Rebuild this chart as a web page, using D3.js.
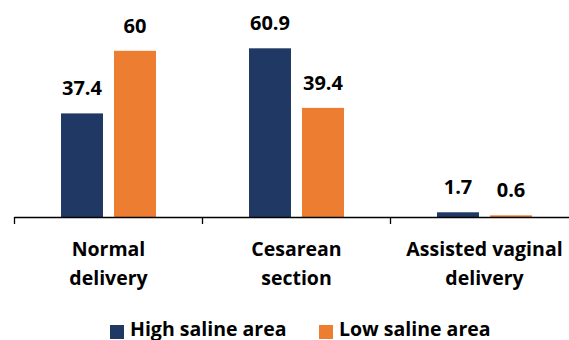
<!DOCTYPE html>
<html>
<head>
<meta charset="utf-8">
<script src="https://cdn.jsdelivr.net/npm/d3@7"></script>
<style>
  html, body { margin: 0; padding: 0; background: #fff; }
  svg { display: block; font-family: "Open Sans", Lato, sans-serif; font-weight: bold; }
</style>
</head>
<body>
<svg id="chart" width="569" height="340"></svg>
<script>
// Mode of delivery by area (%)
const categories = [["Normal", "delivery"], ["Cesarean", "section"], ["Assisted vaginal", "delivery"]];
const seriesNames = ["High saline area", "Low saline area"];
const highSaline = [37.4, 60.9, 1.7];
const lowSaline = [60, 39.4, 0.6];
const colors = ["#203864", "#ED7D31"];

const svg = d3.select("#chart");
const baseY = 217;

const x0 = d3.scaleBand()
  .domain(d3.range(categories.length))
  .range([14.5, 578.5])
  .paddingInner(0).paddingOuter(0);

// two bars per group, 42px wide with an 11px gap, centred in the group
const x1 = d3.scaleBand()
  .domain(d3.range(seriesNames.length))
  .range([46.5, 141.5])
  .paddingInner(11 / 53)
  .paddingOuter(0);

const y = d3.scaleLinear().domain([0, 70]).range([baseY, baseY - 70 * 2.77]);

const rows = categories.map((c, i) => ({ i, values: [highSaline[i], lowSaline[i]] }));

const groups = svg.selectAll("g.cat").data(rows).join("g")
  .attr("class", "cat")
  .attr("transform", d => `translate(${x0(d.i)},0)`);

groups.selectAll("rect").data(d => d.values.map((v, s) => ({ v, s }))).join("rect")
  .attr("x", d => x1(d.s))
  .attr("width", x1.bandwidth())
  .attr("y", d => y(d.v))
  .attr("height", d => y(0) - y(d.v))
  .attr("fill", d => colors[d.s]);

groups.selectAll("text.val").data(d => d.values.map((v, s) => ({ v, s }))).join("text")
  .attr("class", "val")
  .attr("x", d => x1(d.s) + x1.bandwidth() / 2)
  .attr("y", d => y(d.v) - 18)
  .attr("text-anchor", "middle")
  .attr("font-size", 20)
  .attr("fill", "#000")
  .text(d => d.v);

// category axis with ticks between groups
const axis = svg.append("g");
axis.append("line")
  .attr("x1", x0.range()[0]).attr("x2", x0.range()[1])
  .attr("y1", baseY + 0.5).attr("y2", baseY + 0.5)
  .attr("stroke", "#000").attr("stroke-width", 1.3);
axis.selectAll("line.tick").data(d3.range(categories.length + 1)).join("line")
  .attr("class", "tick")
  .attr("x1", i => x0.range()[0] + i * x0.step())
  .attr("x2", i => x0.range()[0] + i * x0.step())
  .attr("y1", baseY).attr("y2", baseY + 7)
  .attr("stroke", "#000").attr("stroke-width", 1.3);

axis.selectAll("text.cat").data(categories).join("text")
  .attr("class", "cat")
  .attr("text-anchor", "middle")
  .attr("font-size", 19.5)
  .attr("fill", "#000")
  .each(function (lines, i) {
    const t = d3.select(this);
    lines.forEach((ln, k) => {
      t.append("tspan")
        .attr("x", x0(i) + x0.bandwidth() / 2)
        .attr("y", 256 + k * 29)
        .text(ln);
    });
  });

// legend
const legend = svg.append("g");
const legendX = [110, 319];
seriesNames.forEach((name, s) => {
  legend.append("rect")
    .attr("x", legendX[s]).attr("y", 325)
    .attr("width", 14).attr("height", 14)
    .attr("fill", colors[s]);
  legend.append("text")
    .attr("x", legendX[s] + 20).attr("y", 336)
    .attr("font-size", 19.5)
    .attr("fill", "#000")
    .text(name);
});
</script>
</body>
</html>
